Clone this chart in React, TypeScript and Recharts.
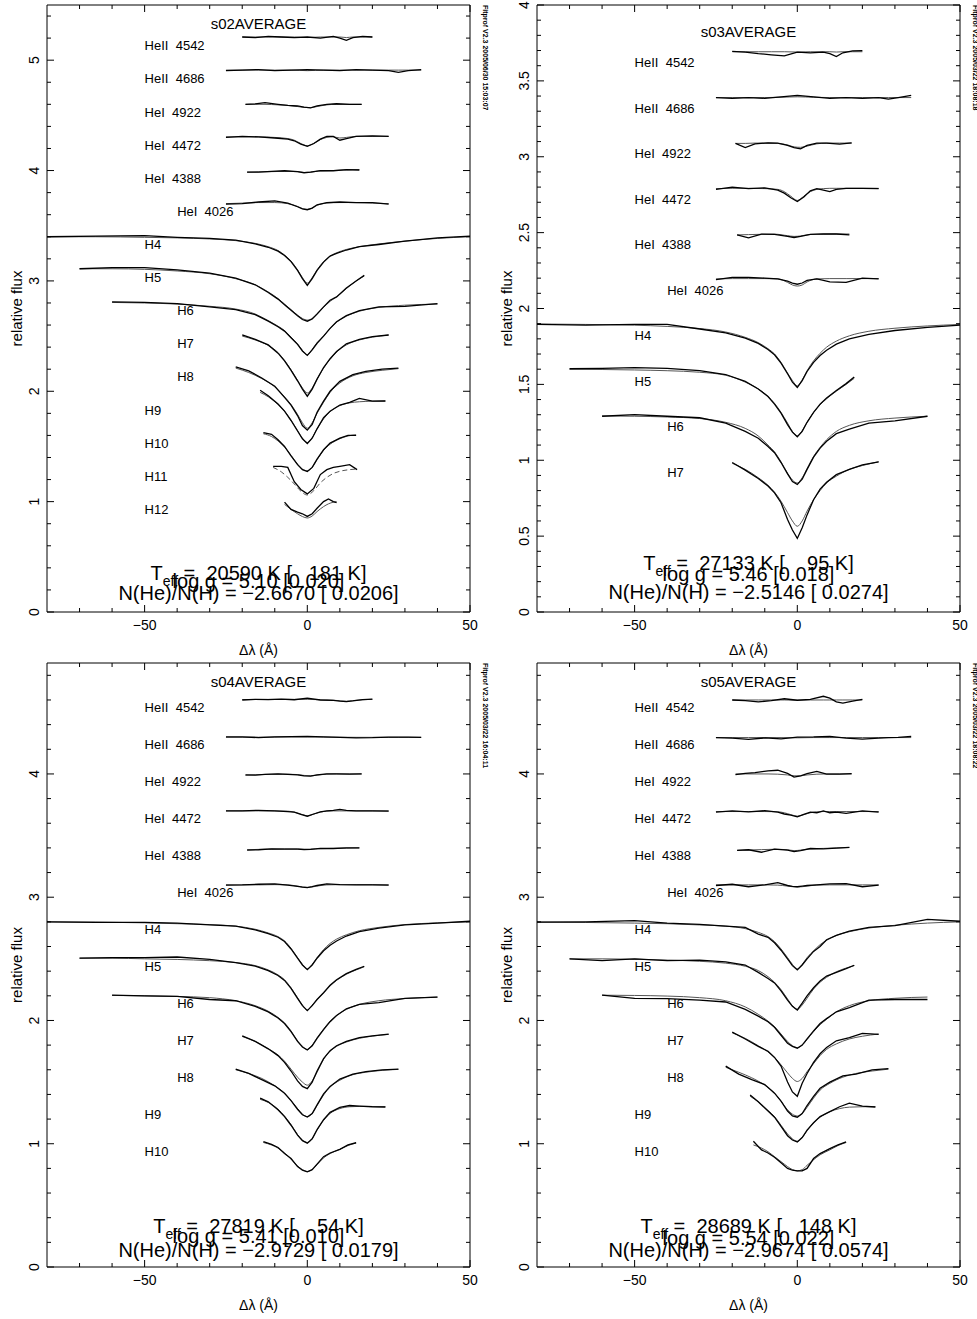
import React from 'react';
import { ComposedChart, Line, XAxis, YAxis, ReferenceDot } from 'recharts';

const FONT = '"Liberation Sans", Arial, Helvetica, sans-serif';

// wavelength grids, offset from line centre in Å
const gHeII4542 = [-20, -16, -12, -8, -4, 0, 4, 8, 10, 12, 14, 17, 20];
const gHeII4686 = [-25, -20, -15, -10, -5, 0, 5, 10, 15, 20, 25, 28, 31, 35];
const gHeI4922 = [-19, -16, -13, -9, -6, -3, -1, 1, 3, 6, 9, 13, 16.7];
const gHeI4472 = [-25, -20, -15, -10, -6, -4, -2, 0, 2, 4, 6, 8, 10, 12, 15, 20, 25];
const gHeI4388 = [-18.5, -15, -11, -7, -3, -1, 1, 4, 8, 12, 16];
const gHeI4026 = [-25, -20, -15, -10, -6, -3, -1.5, 0, 1.5, 3, 6, 10, 15, 20, 25];
const gH4 = [-80, -65, -50, -40, -30, -22, -16, -12, -9, -7, -5, -3, -1.5, 0, 1.5, 3, 5, 7, 9, 12, 16, 22, 30, 40, 50];
const gH5 = [-70, -60, -50, -40, -30, -22, -16, -12, -9, -7, -5, -3, -1.5, 0, 1.5, 3, 5, 7, 9, 12, 15, 17.5];
const gH6 = [-60, -50, -40, -30, -22, -16, -12, -9, -7, -5, -3, -1.5, 0, 1.5, 3, 5, 7, 9, 12, 16, 22, 30, 40];
const gH7 = [-20, -16, -12, -9, -7, -5, -3, -1.5, 0, 1.5, 3, 5, 7, 9, 12, 16, 20, 25];
const gH8 = [-22, -18, -14, -10, -7, -5, -3, -1.5, 0, 1.5, 3, 5, 7, 10, 14, 18, 23, 28];
const gH9 = [-14.5, -12, -9, -7, -5, -3, -1.5, 0, 1.5, 3, 5, 7, 10, 13, 16, 20, 24];
const gH10 = [-13.5, -11, -9, -7, -5, -3, -1.5, 0, 1.5, 3, 5, 7, 10, 12.5, 15];
const gH11 = [-10.5, -8, -6, -4, -2, 0, 2, 4, 6, 8, 10, 13, 15.3];
const gH12 = [-7, -5, -3, -1.5, 0, 1.5, 3, 5, 6.5, 8, 9];

const grids: Record<string, number[]> = {
  'HeII 4542': gHeII4542, 'HeII 4686': gHeII4686, 'HeI 4922': gHeI4922,
  'HeI 4472': gHeI4472, 'HeI 4388': gHeI4388, 'HeI 4026': gHeI4026,
  H4: gH4, H5: gH5, H6: gH6, H7: gH7, H8: gH8, H9: gH9, H10: gH10, H11: gH11, H12: gH12,
};

const heLines = ['HeII 4542', 'HeII 4686', 'HeI 4922', 'HeI 4472', 'HeI 4388', 'HeI 4026'];
const s02Lines = [...heLines, 'H4', 'H5', 'H6', 'H7', 'H8', 'H9', 'H10', 'H11', 'H12'];
const s03Lines = [...heLines, 'H4', 'H5', 'H6', 'H7'];
const s45Lines = [...heLines, 'H4', 'H5', 'H6', 'H7', 'H8', 'H9', 'H10'];

// s02AVERAGE
const s02Fit = [
  [5.21, 5.21, 5.21, 5.21, 5.21, 5.205, 5.21, 5.21, 5.21, 5.205, 5.21, 5.21, 5.21],
  [4.91, 4.91, 4.91, 4.91, 4.91, 4.905, 4.91, 4.91, 4.91, 4.91, 4.91, 4.91, 4.91, 4.91],
  [4.6, 4.6, 4.6, 4.595, 4.59, 4.58, 4.572, 4.57, 4.58, 4.595, 4.6, 4.6, 4.6],
  [4.305, 4.305, 4.305, 4.3, 4.29, 4.275, 4.245, 4.225, 4.245, 4.28, 4.3, 4.305, 4.295, 4.3, 4.31, 4.31, 4.31],
  [3.985, 3.988, 3.99, 3.993, 3.99, 3.982, 3.985, 3.997, 4.0, 4.005, 4.008],
  [3.7, 3.705, 3.71, 3.71, 3.7, 3.675, 3.655, 3.648, 3.66, 3.685, 3.705, 3.71, 3.71, 3.705, 3.7],
  [3.4, 3.4, 3.395, 3.39, 3.38, 3.365, 3.34, 3.31, 3.275, 3.235, 3.18, 3.1, 3.03, 2.98, 3.03, 3.1, 3.175, 3.225, 3.255, 3.285, 3.31, 3.335, 3.36, 3.385, 3.4],
  [3.11, 3.11, 3.105, 3.09, 3.065, 3.02, 2.965, 2.9, 2.84, 2.79, 2.74, 2.69, 2.66, 2.645, 2.66, 2.7, 2.76, 2.815, 2.855, 2.93, 3.0, 3.045],
  [2.805, 2.8, 2.79, 2.77, 2.745, 2.7, 2.64, 2.59, 2.55, 2.49, 2.43, 2.37, 2.33, 2.38, 2.44, 2.5, 2.57, 2.625, 2.68, 2.725, 2.76, 2.78, 2.79],
  [2.5, 2.465, 2.415, 2.35, 2.28, 2.195, 2.1, 2.03, 1.985, 2.03, 2.11, 2.21, 2.29, 2.355, 2.42, 2.465, 2.49, 2.51],
  [2.21, 2.17, 2.115, 2.04, 1.95, 1.88, 1.79, 1.715, 1.665, 1.715, 1.8, 1.9, 1.99, 2.075, 2.14, 2.17, 2.19, 2.205],
  [1.99, 1.95, 1.88, 1.82, 1.74, 1.645, 1.575, 1.535, 1.58, 1.66, 1.75, 1.815, 1.87, 1.895, 1.905, 1.91, 1.912],
  [1.615, 1.59, 1.55, 1.495, 1.42, 1.34, 1.295, 1.28, 1.31, 1.38, 1.465, 1.52, 1.57, 1.595, 1.605],
  [1.31, 1.27, 1.22, 1.16, 1.095, 1.06, 1.1, 1.17, 1.22, 1.255, 1.275, 1.29, 1.295],
  [0.975, 0.93, 0.89, 0.865, 0.852, 0.87, 0.91, 0.955, 0.98, 0.995, 1.0],
];
const s02Obs = [
  [5.21, 5.205, 5.215, 5.21, 5.205, 5.21, 5.2, 5.215, 5.2, 5.18, 5.205, 5.215, 5.21],
  [4.905, 4.91, 4.915, 4.905, 4.91, 4.915, 4.91, 4.905, 4.915, 4.91, 4.905, 4.89, 4.905, 4.915],
  [4.6, 4.605, 4.615, 4.6, 4.59, 4.585, 4.575, 4.568, 4.585, 4.6, 4.605, 4.6, 4.6],
  [4.3, 4.31, 4.305, 4.295, 4.285, 4.27, 4.24, 4.22, 4.245, 4.285, 4.31, 4.31, 4.275, 4.29, 4.31, 4.315, 4.31],
  [3.985, 3.985, 3.992, 3.998, 3.99, 3.98, 3.985, 4.0, 3.998, 4.008, 4.005],
  [3.695, 3.7, 3.715, 3.725, 3.705, 3.672, 3.652, 3.645, 3.66, 3.69, 3.71, 3.715, 3.71, 3.71, 3.695],
  [3.4, 3.405, 3.41, 3.395, 3.385, 3.37, 3.335, 3.305, 3.27, 3.23, 3.175, 3.095, 3.02, 2.96, 3.02, 3.095, 3.17, 3.225, 3.25, 3.28, 3.31, 3.33, 3.36, 3.39, 3.405],
  [3.11, 3.12, 3.12, 3.1, 3.07, 3.025, 2.965, 2.895, 2.835, 2.785, 2.735, 2.685, 2.65, 2.635, 2.655, 2.7, 2.765, 2.825, 2.855, 2.935, 3.0, 3.05],
  [2.81, 2.805, 2.795, 2.765, 2.74, 2.695, 2.635, 2.585, 2.545, 2.485, 2.425, 2.365, 2.325, 2.375, 2.435, 2.5, 2.57, 2.63, 2.685, 2.73, 2.765, 2.77, 2.795],
  [2.51, 2.47, 2.42, 2.345, 2.275, 2.19, 2.095, 2.02, 1.955, 2.02, 2.11, 2.215, 2.295, 2.36, 2.43, 2.47, 2.495, 2.51],
  [2.22, 2.185, 2.12, 2.045, 1.945, 1.875, 1.78, 1.69, 1.648, 1.7, 1.81, 1.91, 2.0, 2.09, 2.15, 2.18, 2.2, 2.21],
  [2.01, 1.96, 1.885, 1.82, 1.735, 1.64, 1.57, 1.527, 1.575, 1.66, 1.76, 1.82, 1.875, 1.9, 1.935, 1.91, 1.912],
  [1.625, 1.61, 1.56, 1.5, 1.415, 1.335, 1.29, 1.272, 1.31, 1.385, 1.47, 1.53, 1.575, 1.6, 1.6],
  [1.32, 1.32, 1.31, 1.18, 1.11, 1.07, 1.12, 1.245, 1.29, 1.31, 1.32, 1.335, 1.29],
  [0.995, 0.93, 0.905, 0.89, 0.866, 0.89, 0.94, 1.0, 1.025, 1.0, 0.99],
];

// s03AVERAGE
const s03Fit = [
  [3.692, 3.692, 3.692, 3.692, 3.692, 3.69, 3.692, 3.692, 3.692, 3.69, 3.692, 3.692, 3.692],
  [3.39, 3.39, 3.39, 3.39, 3.392, 3.395, 3.392, 3.39, 3.39, 3.39, 3.39, 3.39, 3.39, 3.39],
  [3.088, 3.088, 3.09, 3.09, 3.088, 3.078, 3.065, 3.062, 3.07, 3.085, 3.09, 3.09, 3.09],
  [2.79, 2.792, 2.792, 2.79, 2.785, 2.77, 2.74, 2.712, 2.74, 2.77, 2.785, 2.79, 2.792, 2.792, 2.792, 2.792, 2.792],
  [2.485, 2.487, 2.489, 2.49, 2.48, 2.475, 2.478, 2.488, 2.49, 2.491, 2.491],
  [2.195, 2.197, 2.197, 2.197, 2.195, 2.172, 2.155, 2.148, 2.155, 2.175, 2.195, 2.197, 2.197, 2.197, 2.197],
  [1.898, 1.895, 1.89, 1.882, 1.868, 1.845, 1.81, 1.775, 1.735, 1.7, 1.645, 1.575, 1.525, 1.49, 1.53, 1.59, 1.655, 1.705, 1.745, 1.785, 1.82, 1.85, 1.87, 1.885, 1.895],
  [1.6, 1.598, 1.595, 1.59, 1.58, 1.56, 1.515, 1.47, 1.42, 1.375, 1.315, 1.245, 1.19, 1.16, 1.195, 1.25, 1.315, 1.365, 1.405, 1.455, 1.5, 1.54],
  [1.292, 1.29, 1.285, 1.275, 1.25, 1.21, 1.16, 1.1, 1.055, 0.99, 0.915, 0.87, 0.85, 0.885, 0.945, 1.025, 1.085, 1.135, 1.19, 1.23, 1.26, 1.278, 1.29],
  [0.98, 0.94, 0.885, 0.835, 0.79, 0.73, 0.655, 0.6, 0.565, 0.6, 0.665, 0.74, 0.8, 0.85, 0.895, 0.94, 0.965, 0.99],
];
const s03Obs = [
  [3.695, 3.69, 3.68, 3.672, 3.665, 3.69, 3.685, 3.69, 3.68, 3.66, 3.685, 3.698, 3.7],
  [3.39, 3.385, 3.39, 3.385, 3.395, 3.405, 3.395, 3.385, 3.39, 3.385, 3.39, 3.38, 3.39, 3.405],
  [3.088, 3.06, 3.085, 3.092, 3.09, 3.075, 3.06, 3.052, 3.075, 3.09, 3.09, 3.083, 3.092],
  [2.785, 2.8, 2.79, 2.795, 2.78, 2.76, 2.73, 2.705, 2.735, 2.775, 2.79, 2.78, 2.77, 2.785, 2.792, 2.792, 2.79],
  [2.485, 2.465, 2.49, 2.488, 2.476, 2.468, 2.475, 2.488, 2.492, 2.491, 2.485],
  [2.19, 2.205, 2.205, 2.2, 2.195, 2.18, 2.168, 2.16, 2.168, 2.185, 2.195, 2.175, 2.172, 2.2, 2.195],
  [1.895, 1.89, 1.895, 1.895, 1.865, 1.84, 1.805, 1.77, 1.73, 1.695, 1.64, 1.57, 1.515, 1.48, 1.525, 1.585, 1.645, 1.69, 1.725, 1.765, 1.8, 1.83, 1.855, 1.875, 1.89],
  [1.603, 1.605, 1.61, 1.605, 1.59, 1.565, 1.52, 1.47, 1.42, 1.37, 1.31, 1.235, 1.185, 1.155, 1.19, 1.25, 1.315, 1.37, 1.41, 1.46, 1.505, 1.548],
  [1.29, 1.3, 1.29, 1.28, 1.245, 1.19, 1.145, 1.09, 1.05, 0.985, 0.91, 0.86, 0.84, 0.875, 0.94, 1.02, 1.08, 1.125, 1.175, 1.205, 1.245, 1.26, 1.29],
  [0.985, 0.935, 0.88, 0.83, 0.785, 0.72, 0.61, 0.54, 0.485, 0.555, 0.64, 0.74, 0.81, 0.855, 0.905, 0.94, 0.97, 0.99],
];

// s04AVERAGE
const s04Fit = [
  [4.603, 4.604, 4.605, 4.605, 4.605, 4.605, 4.602, 4.598, 4.594, 4.59, 4.595, 4.602, 4.605],
  [4.298, 4.298, 4.298, 4.299, 4.3, 4.3, 4.299, 4.298, 4.297, 4.297, 4.297, 4.297, 4.297, 4.297],
  [3.99, 3.993, 3.996, 3.998, 3.998, 3.995, 3.988, 3.985, 3.99, 3.998, 4.0, 4.0, 4.0],
  [3.7, 3.7, 3.7, 3.7, 3.698, 3.69, 3.675, 3.66, 3.675, 3.69, 3.698, 3.7, 3.7, 3.7, 3.7, 3.7, 3.7],
  [3.385, 3.388, 3.39, 3.392, 3.392, 3.39, 3.39, 3.394, 3.396, 3.398, 3.4],
  [3.1, 3.1, 3.1, 3.102, 3.1, 3.09, 3.083, 3.08, 3.083, 3.09, 3.1, 3.102, 3.102, 3.102, 3.1],
  [2.8, 2.798, 2.792, 2.785, 2.778, 2.765, 2.74, 2.71, 2.68, 2.645, 2.585, 2.51, 2.455, 2.42, 2.455, 2.51, 2.575, 2.625, 2.66, 2.695, 2.728, 2.755, 2.778, 2.792, 2.8],
  [2.505, 2.505, 2.5, 2.495, 2.485, 2.47, 2.445, 2.41, 2.37, 2.33, 2.265, 2.185, 2.125, 2.085, 2.125, 2.17, 2.225, 2.28, 2.325, 2.375, 2.41, 2.435],
  [2.203, 2.2, 2.195, 2.185, 2.16, 2.12, 2.075, 2.025, 1.98, 1.915, 1.835, 1.79, 1.765, 1.8, 1.86, 1.93, 1.995, 2.04, 2.09, 2.13, 2.16, 2.178, 2.19],
  [1.87, 1.83, 1.77, 1.72, 1.67, 1.605, 1.54, 1.5, 1.475, 1.51, 1.58, 1.685, 1.75, 1.79, 1.825, 1.855, 1.873, 1.887],
  [1.6, 1.57, 1.53, 1.47, 1.41, 1.35, 1.285, 1.24, 1.22, 1.245, 1.31, 1.395, 1.46, 1.515, 1.56, 1.58, 1.595, 1.603],
  [1.36, 1.335, 1.28, 1.225, 1.155, 1.075, 1.03, 1.01, 1.04, 1.11, 1.19, 1.245, 1.285, 1.3, 1.303, 1.302, 1.3],
  [1.01, 0.99, 0.965, 0.925, 0.875, 0.82, 0.79, 0.775, 0.79, 0.83, 0.885, 0.92, 0.955, 0.985, 1.007],
];
const s04Obs = [
  [4.6, 4.605, 4.603, 4.607, 4.602, 4.615, 4.6, 4.596, 4.59, 4.586, 4.592, 4.603, 4.607],
  [4.3, 4.3, 4.295, 4.3, 4.302, 4.304, 4.3, 4.296, 4.293, 4.294, 4.298, 4.298, 4.298, 4.296],
  [3.993, 3.99, 3.997, 4.0, 3.997, 3.993, 3.985, 3.983, 3.992, 4.0, 4.0, 3.998, 4.0],
  [3.7, 3.7, 3.705, 3.7, 3.695, 3.69, 3.672, 3.657, 3.675, 3.693, 3.7, 3.705, 3.712, 3.705, 3.7, 3.7, 3.698],
  [3.382, 3.385, 3.392, 3.39, 3.39, 3.386, 3.388, 3.396, 3.395, 3.4, 3.4],
  [3.098, 3.1, 3.105, 3.108, 3.098, 3.088, 3.082, 3.078, 3.085, 3.095, 3.108, 3.102, 3.1, 3.1, 3.098],
  [2.8, 2.795, 2.795, 2.79, 2.775, 2.765, 2.735, 2.705, 2.675, 2.64, 2.58, 2.505, 2.45, 2.412, 2.45, 2.505, 2.565, 2.61, 2.645, 2.685, 2.72, 2.75, 2.775, 2.79, 2.805],
  [2.505, 2.51, 2.51, 2.515, 2.495, 2.47, 2.44, 2.405, 2.365, 2.325, 2.26, 2.18, 2.12, 2.08, 2.12, 2.17, 2.225, 2.285, 2.33, 2.38, 2.415, 2.44],
  [2.205, 2.2, 2.195, 2.17, 2.16, 2.115, 2.07, 2.02, 1.975, 1.91, 1.83, 1.785, 1.76, 1.795, 1.855, 1.925, 1.99, 2.04, 2.095, 2.13, 2.145, 2.18, 2.19],
  [1.875, 1.83, 1.77, 1.715, 1.66, 1.59, 1.51, 1.465, 1.447, 1.5, 1.59, 1.69, 1.755, 1.795, 1.83, 1.86, 1.875, 1.89],
  [1.605, 1.57, 1.52, 1.47, 1.41, 1.35, 1.28, 1.235, 1.217, 1.245, 1.315, 1.405, 1.465, 1.525, 1.565, 1.585, 1.6, 1.605],
  [1.37, 1.34, 1.275, 1.22, 1.15, 1.07, 1.025, 1.005, 1.04, 1.115, 1.195, 1.255, 1.295, 1.31, 1.305, 1.3, 1.298],
  [1.018, 0.995, 0.97, 0.92, 0.88, 0.815, 0.785, 0.772, 0.79, 0.835, 0.895, 0.925, 0.955, 0.99, 1.008],
];

// s05AVERAGE
const s05Fit = [
  [4.6, 4.6, 4.6, 4.6, 4.6, 4.598, 4.6, 4.6, 4.6, 4.6, 4.6, 4.6, 4.6],
  [4.295, 4.295, 4.295, 4.295, 4.295, 4.293, 4.295, 4.295, 4.295, 4.295, 4.295, 4.295, 4.295, 4.295],
  [4.0, 4.0, 4.0, 4.0, 3.998, 3.992, 3.985, 3.985, 3.992, 3.998, 4.0, 4.0, 4.0],
  [3.695, 3.695, 3.695, 3.695, 3.693, 3.685, 3.67, 3.658, 3.67, 3.685, 3.693, 3.695, 3.695, 3.695, 3.695, 3.695, 3.695],
  [3.38, 3.383, 3.386, 3.389, 3.385, 3.378, 3.382, 3.392, 3.396, 3.4, 3.403],
  [3.1, 3.1, 3.1, 3.1, 3.098, 3.09, 3.085, 3.083, 3.085, 3.09, 3.098, 3.1, 3.1, 3.1, 3.1],
  [2.798, 2.795, 2.79, 2.785, 2.775, 2.765, 2.745, 2.715, 2.68, 2.64, 2.58, 2.51, 2.455, 2.42, 2.455, 2.51, 2.565, 2.615, 2.65, 2.69, 2.72, 2.75, 2.772, 2.79, 2.8],
  [2.5, 2.5, 2.497, 2.49, 2.48, 2.465, 2.44, 2.405, 2.355, 2.31, 2.25, 2.175, 2.12, 2.09, 2.125, 2.18, 2.255, 2.31, 2.35, 2.395, 2.425, 2.445],
  [2.205, 2.203, 2.198, 2.185, 2.16, 2.11, 2.05, 1.995, 1.95, 1.89, 1.83, 1.795, 1.78, 1.8, 1.845, 1.91, 1.965, 2.01, 2.07, 2.12, 2.16, 2.18, 2.19],
  [1.9, 1.855, 1.795, 1.745, 1.7, 1.64, 1.575, 1.53, 1.505, 1.53, 1.585, 1.65, 1.715, 1.765, 1.81, 1.85, 1.872, 1.89],
  [1.62, 1.58, 1.535, 1.475, 1.41, 1.345, 1.275, 1.24, 1.225, 1.245, 1.295, 1.37, 1.435, 1.49, 1.54, 1.57, 1.59, 1.605],
  [1.385, 1.34, 1.27, 1.22, 1.15, 1.08, 1.04, 1.02, 1.05, 1.105, 1.17, 1.215, 1.26, 1.285, 1.297, 1.3, 1.3],
  [0.99, 0.965, 0.935, 0.895, 0.855, 0.815, 0.79, 0.78, 0.79, 0.825, 0.87, 0.91, 0.95, 0.985, 1.01],
];
const s05Obs = [
  [4.6, 4.595, 4.585, 4.595, 4.61, 4.598, 4.605, 4.63, 4.615, 4.585, 4.575, 4.59, 4.605],
  [4.295, 4.29, 4.28, 4.292, 4.284, 4.298, 4.3, 4.305, 4.29, 4.282, 4.29, 4.295, 4.296, 4.305],
  [3.995, 4.005, 4.01, 4.025, 4.03, 4.005, 3.975, 3.985, 4.002, 4.02, 3.998, 3.998, 4.002],
  [3.69, 3.7, 3.692, 3.702, 3.69, 3.675, 3.665, 3.652, 3.672, 3.69, 3.685, 3.7, 3.685, 3.69, 3.68, 3.7, 3.69],
  [3.38, 3.385, 3.365, 3.39, 3.382, 3.37, 3.378, 3.395, 3.392, 3.398, 3.405],
  [3.095, 3.105, 3.085, 3.1, 3.118, 3.095, 3.088, 3.085, 3.09, 3.095, 3.1, 3.108, 3.11, 3.085, 3.098],
  [2.798, 2.8, 2.81, 2.79, 2.78, 2.765, 2.755, 2.7, 2.675, 2.63, 2.57, 2.5, 2.445, 2.41, 2.45, 2.5, 2.56, 2.6, 2.655, 2.69, 2.725, 2.755, 2.77, 2.82, 2.805],
  [2.5, 2.485, 2.5, 2.485, 2.49, 2.475, 2.45, 2.39, 2.34, 2.305, 2.24, 2.165, 2.115, 2.085, 2.14, 2.2, 2.265, 2.32, 2.36, 2.39, 2.42, 2.448],
  [2.205, 2.18, 2.178, 2.165, 2.15, 2.09, 2.035, 1.99, 1.945, 1.88, 1.815, 1.79, 1.775, 1.8, 1.85, 1.915, 1.975, 2.015, 2.07, 2.105, 2.165, 2.17, 2.17],
  [1.905, 1.85, 1.79, 1.75, 1.7, 1.63, 1.5, 1.42, 1.385, 1.49, 1.57, 1.66, 1.73, 1.78, 1.835, 1.86, 1.895, 1.888],
  [1.63, 1.565, 1.52, 1.48, 1.41, 1.345, 1.265, 1.225, 1.215, 1.245, 1.31, 1.385, 1.45, 1.5, 1.55, 1.565, 1.6, 1.61],
  [1.395, 1.34, 1.265, 1.215, 1.14, 1.065, 1.03, 1.015, 1.05, 1.11, 1.17, 1.22, 1.26, 1.3, 1.33, 1.305, 1.298],
  [1.02, 0.95, 0.925, 0.89, 0.845, 0.8, 0.785, 0.78, 0.78, 0.8, 0.88, 0.92, 0.96, 0.99, 1.015],
];

// line label anchors (Å, flux)
const s02LabelX = [-50, -50, -50, -50, -50, -40, -50, -50, -40, -40, -40, -50, -50, -50, -50];
const s02LabelY = [5.13, 4.83, 4.53, 4.23, 3.93, 3.63, 3.33, 3.03, 2.73, 2.43, 2.13, 1.83, 1.53, 1.23, 0.93];
const s03LabelX = [-50, -50, -50, -50, -50, -40, -50, -50, -40, -40];
const s03LabelY = [3.62, 3.32, 3.02, 2.72, 2.42, 2.12, 1.82, 1.52, 1.22, 0.92];
const s45LabelX = [-50, -50, -50, -50, -50, -40, -50, -50, -40, -40, -40, -50, -50];
const s45LabelY = [4.54, 4.24, 3.94, 3.64, 3.34, 3.04, 2.74, 2.44, 2.14, 1.84, 1.54, 1.24, 0.94];

const xTicks = [-70, -60, -50, -40, -30, -20, -10, 0, 10, 20, 30, 40, 50];
const xMajor = [-50, 0, 50];
const s02YTicks = [0, 0.2, 0.4, 0.6, 0.8, 1, 1.2, 1.4, 1.6, 1.8, 2, 2.2, 2.4, 2.6, 2.8, 3, 3.2, 3.4, 3.6, 3.8, 4, 4.2, 4.4, 4.6, 4.8, 5, 5.2, 5.4];
const s02YMajor = [0, 1, 2, 3, 4, 5];
const s03YTicks = [0, 0.1, 0.2, 0.3, 0.4, 0.5, 0.6, 0.7, 0.8, 0.9, 1, 1.1, 1.2, 1.3, 1.4, 1.5, 1.6, 1.7, 1.8, 1.9, 2, 2.1, 2.2, 2.3, 2.4, 2.5, 2.6, 2.7, 2.8, 2.9, 3, 3.1, 3.2, 3.3, 3.4, 3.5, 3.6, 3.7, 3.8, 3.9, 4];
const s03YMajor = [0, 0.5, 1, 1.5, 2, 2.5, 3, 3.5, 4];
const s45YTicks = [0, 0.2, 0.4, 0.6, 0.8, 1, 1.2, 1.4, 1.6, 1.8, 2, 2.2, 2.4, 2.6, 2.8, 3, 3.2, 3.4, 3.6, 3.8, 4, 4.2, 4.4, 4.6, 4.8];
const s45YMajor = [0, 1, 2, 3, 4];

// fit results: Teff, err, log g, err, log N(He)/N(H), err
const s02Stats = ['20590', '181', '5.10', '0.020', '\u22122.6670', '0.0206'];
const s03Stats = ['27133', '95', '5.46', '0.018', '\u22122.5146', '0.0274'];
const s04Stats = ['27819', '54', '5.41', '0.010', '\u22122.9729', '0.0179'];
const s05Stats = ['28689', '148', '5.54', '0.022', '\u22122.9674', '0.0574'];

const isIn = (list: number[], v: number) => list.some((m) => Math.abs(m - v) < 1e-6);
const fmt = (v: number) => (v < 0 ? '\u2212' + Math.abs(v) : String(v));
const toPts = (xs: number[], ys: number[]) => xs.map((x, i) => ({ x, y: ys[i] }));

const BottomTick = (props: any) => {
  const { x, y, payload } = props;
  const major = isIn(xMajor, payload.value);
  return (
    <g>
      <line x1={x} x2={x} y1={y} y2={y - (major ? 7 : 4)} stroke="#000" />
      {major && (
        <text x={x} y={y + 13} textAnchor="middle" dominantBaseline="central" fontSize={14} fontFamily={FONT} fill="#000">
          {fmt(payload.value)}
        </text>
      )}
    </g>
  );
};

const TopTick = (props: any) => {
  const { x, y, payload } = props;
  const major = isIn(xMajor, payload.value);
  return <line x1={x} x2={x} y1={y} y2={y + (major ? 7 : 4)} stroke="#000" />;
};

const LeftTick = (props: any) => {
  const { x, y, payload, majors } = props;
  const major = isIn(majors, payload.value);
  return (
    <g>
      <line x1={x} x2={x + (major ? 7 : 4)} y1={y} y2={y} stroke="#000" />
      {major && (
        <text x={x - 13} y={y} transform={`rotate(-90 ${x - 13} ${y})`} textAnchor="middle" dominantBaseline="central" fontSize={14} fontFamily={FONT} fill="#000">
          {fmt(payload.value)}
        </text>
      )}
    </g>
  );
};

const RightTick = (props: any) => {
  const { x, y, payload, majors } = props;
  const major = isIn(majors, payload.value);
  return <line x1={x} x2={x - (major ? 7 : 4)} y1={y} y2={y} stroke="#000" />;
};

type PanelProps = {
  title: string;
  titleY: number;
  lines: string[];
  fit: number[][];
  obs: number[][];
  labelX: number[];
  labelY: number[];
  yMax: number;
  yTicks: number[];
  yMajor: number[];
  stats: string[];
  statRise: number[];
  stamp: string;
  left: number;
  top: number;
  height: number;
  plotTop: number;
  plotBottom: number;
};

function SpectrumPanel(p: PanelProps) {
  const width = 487;
  const plotL = 47;
  const plotR = 470;
  const plotT = p.plotTop;
  const plotB = p.plotBottom;
  // axes are 1px wide bands that sit just outside the plot area
  const margin = { top: plotT - 1, left: plotL - 1, right: width - plotR - 1, bottom: p.height - plotB - 1 };
  const cx = (plotL + plotR) / 2;
  const [teff, teffErr, logg, loggErr, nhe, nheErr] = p.stats;
  const pad = (s: string) => ' '.repeat(Math.max(0, 6 - s.length));
  return (
    <div style={{ position: 'absolute', left: p.left, top: p.top, width, height: p.height }}>
      <ComposedChart width={width} height={p.height} margin={margin}>
        <XAxis xAxisId="b" dataKey="x" type="number" domain={[-80, 50]} allowDataOverflow ticks={xTicks} interval={0}
          height={1} tickSize={0} tickMargin={0} tickLine={false} axisLine={{ stroke: '#000' }} tick={(t: any) => <BottomTick {...t} />} />
        <XAxis xAxisId="t" orientation="top" dataKey="x" type="number" domain={[-80, 50]} allowDataOverflow ticks={xTicks} interval={0}
          height={1} tickSize={0} tickMargin={0} tickLine={false} axisLine={{ stroke: '#000' }} tick={(t: any) => <TopTick {...t} />} />
        <YAxis yAxisId="l" dataKey="y" type="number" domain={[0, p.yMax]} allowDataOverflow ticks={p.yTicks} interval={0}
          width={1} tickSize={0} tickMargin={0} tickLine={false} axisLine={{ stroke: '#000' }} tick={(t: any) => <LeftTick {...t} majors={p.yMajor} />} />
        <YAxis yAxisId="r" orientation="right" dataKey="y" type="number" domain={[0, p.yMax]} allowDataOverflow ticks={p.yTicks} interval={0}
          width={1} tickSize={0} tickMargin={0} tickLine={false} axisLine={{ stroke: '#000' }} tick={(t: any) => <RightTick {...t} majors={p.yMajor} />} />
        {p.lines.map((name, i) => (
          <Line key={'f' + name} name={name + ' fit'} xAxisId="b" yAxisId="l" data={toPts(grids[name], p.fit[i])} dataKey="y"
            type="monotone" dot={false} activeDot={false} stroke="#555" strokeWidth={1}
            strokeDasharray={name === 'H11' ? '5 3' : undefined} isAnimationActive={false} />
        ))}
        {p.lines.map((name, i) => (
          <Line key={'o' + name} name={name} xAxisId="b" yAxisId="l" data={toPts(grids[name], p.obs[i])} dataKey="y"
            type="linear" dot={false} activeDot={false} stroke="#000" strokeWidth={1.3} isAnimationActive={false} />
        ))}
        {p.lines.map((name, i) => (
          <ReferenceDot key={'lab' + name} xAxisId="b" yAxisId="l" x={p.labelX[i]} y={p.labelY[i]} r={0}
            shape={(s: any) => (
              <text x={s.cx} y={s.cy} dominantBaseline="central" fontSize={13} fontFamily={FONT} fill="#000" style={{ whiteSpace: 'pre' }}>
                {name.replace(' ', '  ')}
              </text>
            )} />
        ))}
        <ReferenceDot xAxisId="b" yAxisId="l" x={-15} y={p.titleY} r={0}
          shape={(s: any) => (
            <text x={s.cx} y={s.cy} textAnchor="middle" dominantBaseline="central" fontSize={15} fontFamily={FONT} fill="#000">
              {p.title}
            </text>
          )} />
      </ComposedChart>
      <svg width={width} height={p.height} style={{ position: 'absolute', left: 0, top: 0, pointerEvents: 'none', overflow: 'visible' }}
        fontFamily={FONT} fill="#000">
        <text x={plotL - 31} y={(plotT + plotB) / 2} transform={`rotate(-90 ${plotL - 31} ${(plotT + plotB) / 2})`}
          textAnchor="middle" dominantBaseline="central" fontSize={15}>relative flux</text>
        <text x={cx} y={plotB + 38} textAnchor="middle" dominantBaseline="central" fontSize={14}>{'\u0394\u03bb (\u00c5)'}</text>
        <text x={cx} y={plotB - p.statRise[0]} textAnchor="middle" fontSize={20} style={{ whiteSpace: 'pre' }}>
          <tspan>T</tspan>
          <tspan dy={6} fontSize={14}>eff</tspan>
          <tspan dy={-6}>{` =  ${teff} K [${pad(teffErr)}${teffErr} K]`}</tspan>
        </text>
        <text x={cx} y={plotB - p.statRise[1]} textAnchor="middle" fontSize={20} style={{ whiteSpace: 'pre' }}>
          {`log g = ${logg} [${loggErr}]`}
        </text>
        <text x={cx} y={plotB - p.statRise[2]} textAnchor="middle" fontSize={20} style={{ whiteSpace: 'pre' }}>
          {`N(He)/N(H) = ${nhe} [ ${nheErr}]`}
        </text>
        <text x={plotR + 13} y={plotT} transform={`rotate(90 ${plotR + 13} ${plotT})`} fontSize={7} fontWeight="bold"
          style={{ whiteSpace: 'pre' }}>{p.stamp}</text>
      </svg>
    </div>
  );
}

export default function App() {
  return (
    <div style={{ position: 'absolute', left: 0, top: 0, width: 977, height: 1319, background: '#fff', fontFamily: FONT }}>
      <SpectrumPanel title="s02AVERAGE" titleY={5.335} lines={s02Lines} fit={s02Fit} obs={s02Obs}
        labelX={s02LabelX} labelY={s02LabelY} yMax={5.5} yTicks={s02YTicks} yMajor={s02YMajor}
        stats={s02Stats} statRise={[32, 24, 12]} stamp="Fitprof V2.3 2005/06/30 15:03:07"
        left={0} top={0} height={655} plotTop={5} plotBottom={612} />
      <SpectrumPanel title="s03AVERAGE" titleY={3.825} lines={s03Lines} fit={s03Fit} obs={s03Obs}
        labelX={s03LabelX} labelY={s03LabelY} yMax={4} yTicks={s03YTicks} yMajor={s03YMajor}
        stats={s03Stats} statRise={[42, 31, 13]} stamp="Fitprof V2.3 2005/03/22 18:08:18"
        left={490} top={0} height={655} plotTop={5} plotBottom={612} />
      <SpectrumPanel title="s04AVERAGE" titleY={4.75} lines={s45Lines} fit={s04Fit} obs={s04Obs}
        labelX={s45LabelX} labelY={s45LabelY} yMax={4.9} yTicks={s45YTicks} yMajor={s45YMajor}
        stats={s04Stats} statRise={[34, 24, 10]} stamp="Fitprof V2.3 2005/03/22 16:04:11"
        left={0} top={655} height={664} plotTop={8} plotBottom={612} />
      <SpectrumPanel title="s05AVERAGE" titleY={4.75} lines={s45Lines} fit={s05Fit} obs={s05Obs}
        labelX={s45LabelX} labelY={s45LabelY} yMax={4.9} yTicks={s45YTicks} yMajor={s45YMajor}
        stats={s05Stats} statRise={[34, 22, 10]} stamp="Fitprof V2.3 2005/03/22 18:08:22"
        left={490} top={655} height={664} plotTop={8} plotBottom={612} />
    </div>
  );
}
